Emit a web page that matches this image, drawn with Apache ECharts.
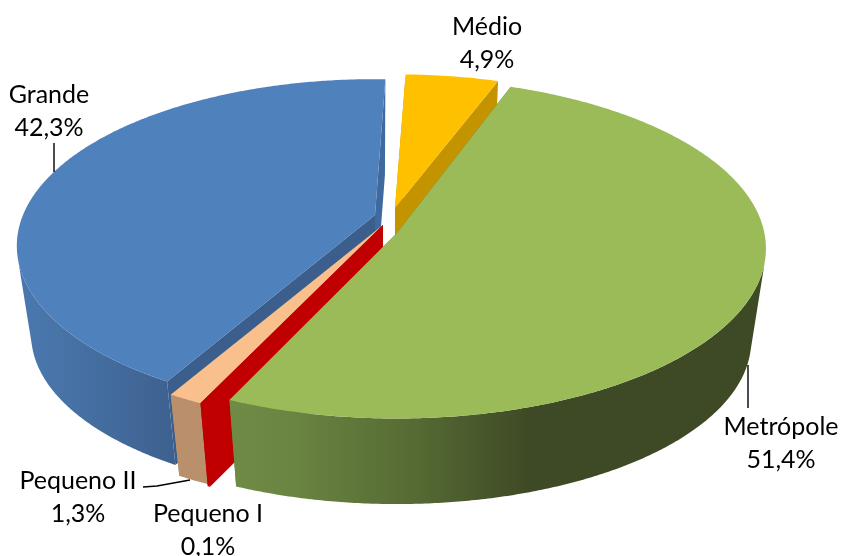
<!DOCTYPE html>
<html>
<head>
<meta charset="utf-8">
<style>
  html, body { margin: 0; padding: 0; background: #fff; }
  #chart { width: 842px; height: 556px; }
</style>
<script src="https://cdn.jsdelivr.net/npm/echarts@6/dist/echarts.min.js"></script>
</head>
<body>
<div id="chart"></div>
<script>
// clockwise from the top
var categories = ['Médio', 'Metrópole', 'Pequeno I', 'Pequeno II', 'Grande']
var shares = [4.9, 51.4, 0.1, 1.3, 42.3]

var startDeg = 2
var drawOrder = [4, 0, 3, 2, 1]

// each exploded slice has its own centre and perspective, fitted by eye
var sliceGeo = [
  { cx: 395, cy: 208, rx: 355, ry: 156, k: 0.167, h: 90 },
  { cx: 396.5, cy: 233.5, rx: 368, ry: 168.7, k: 0.088, h: 93 },
  { cx: 383, cy: 225, rx: 366, ry: 167, k: 0.167, h: 90 },
  { cx: 383, cy: 225, rx: 366, ry: 167, k: 0.167, h: 88 },
  { cx: 375, cy: 215, rx: 352, ry: 161, k: 0.185, h: 90 }
]
var sliceColor = [
  { top: '#ffc000', inner: '#c49400', wall: [[0, '#c49400'], [1, '#c49400']] },
  { top: '#9bbb59', inner: '#5f7a3a', wall: [[0, '#708b46'], [0.12, '#6a8441'], [0.34, '#566b34'], [0.56, '#3e4a25'], [1, '#3e4a25']] },
  { top: '#c00000', inner: '#c00000', wall: [[0, '#c00000'], [1, '#c00000']] },
  { top: '#f9bf8c', inner: '#b98f6c', wall: [[0, '#b98f6c'], [1, '#b98f6c']] },
  { top: '#4f81bd', inner: '#3b5e8c', innerEnd: '#3f6aa0', wall: [[0, '#4a78ae'], [0.25, '#4874a8'], [1, '#3d618f']] }
]

var labelPos = [
  [487, 26.5], [781, 426.5], [208, 514], [78, 481], [49, 95]
]
var leaders = [
  [[54, 143], [54, 172]],
  [[748, 365], [748, 408]],
  [[143, 487], [157, 486], [190, 480]]
]

var sliceStart = []
var acc = startDeg
shares.forEach(function (v) {
  sliceStart.push(acc)
  acc += v * 3.6
})

function project(g, deg, rim, low) {
  var a = deg * Math.PI / 180
  var u = Math.sin(a)
  var v = -Math.cos(a)
  var s = 1 / (1 - g.k * v)
  var x = rim * g.rx * u * s
  var y = rim * g.ry * v * s
  if (low) {
    return [g.cx + x * 0.96, g.cy + g.h + y * 0.96]
  }
  return [g.cx + x, g.cy + y]
}

function arcPoints(g, from, to, low) {
  var pts = []
  var n = Math.max(2, Math.ceil((to - from) * 2))
  for (var i = 0; i <= n; i++) {
    pts.push(project(g, from + (to - from) * i / n, 1, low))
  }
  return pts
}

function renderSlice(params, api) {
  var idx = api.value(0)
  var from = api.value(1)
  var to = from + api.value(2) * 3.6
  var g = sliceGeo[idx]
  var c = sliceColor[idx]
  var top = arcPoints(g, from, to, false)
  var low = arcPoints(g, from, to, true)

  function wallAt(deg, fill) {
    return {
      type: 'polygon',
      shape: { points: [project(g, deg, 0, false), project(g, deg, 1, false), project(g, deg, 1, true), project(g, deg, 0, true)] },
      style: { fill: fill }
    }
  }

  var children = [wallAt(to, c.innerEnd || c.inner), wallAt(from, c.inner)]

  // rim wall: only the samples facing the viewer, so the outline stays simple
  var topSeen = []
  var lowSeen = []
  for (var i = 0; i < top.length; i++) {
    var j = Math.min(i, top.length - 2)
    var tx = top[j + 1][0] - top[j][0]
    var ty = top[j + 1][1] - top[j][1]
    var dx = low[i][0] - top[i][0]
    var dy = low[i][1] - top[i][1]
    if (tx * dy - ty * dx < 0) {
      topSeen.push(top[i])
      lowSeen.push(low[i])
    }
  }
  if (topSeen.length > 1) {
    var xs = topSeen.concat(lowSeen).map(function (p) { return p[0] })
    var wallStops = c.wall.map(function (s) { return { offset: s[0], color: s[1] } })
    children.push({
      type: 'polygon',
      shape: { points: topSeen.concat(lowSeen.reverse()) },
      style: { fill: new echarts.graphic.LinearGradient(Math.min.apply(null, xs), 0, Math.max.apply(null, xs), 0, wallStops, true) }
    })
  }

  children.push({
    type: 'polygon',
    shape: { points: [project(g, from, 0, false)].concat(top) },
    style: { fill: c.top }
  })
  return { type: 'group', children: children }
}

var chart = echarts.init(document.getElementById('chart'), null, { renderer: 'canvas' })

var labelFont = { fontFamily: 'Lato', fontSize: 25, fill: '#000', textAlign: 'center', textVerticalAlign: 'middle' }
var graphics = []
categories.forEach(function (name, i) {
  var pct = shares[i].toFixed(1).replace('.', ',') + '%'
  graphics.push({ type: 'text', x: labelPos[i][0], y: labelPos[i][1], z: 10, style: Object.assign({ text: name }, labelFont) })
  graphics.push({ type: 'text', x: labelPos[i][0], y: labelPos[i][1] + 33, z: 10, style: Object.assign({ text: pct }, labelFont) })
})
leaders.forEach(function (pts) {
  graphics.push({ type: 'polyline', z: 10, shape: { points: pts }, style: { stroke: '#000', lineWidth: 1.4, fill: null } })
})

chart.setOption({
  animation: false,
  backgroundColor: '#fff',
  graphic: graphics,
  series: [{
    type: 'custom',
    coordinateSystem: 'none',
    renderItem: renderSlice,
    silent: true,
    data: drawOrder.map(function (i) { return [i, sliceStart[i], shares[i]] })
  }]
})
</script>
</body>
</html>
